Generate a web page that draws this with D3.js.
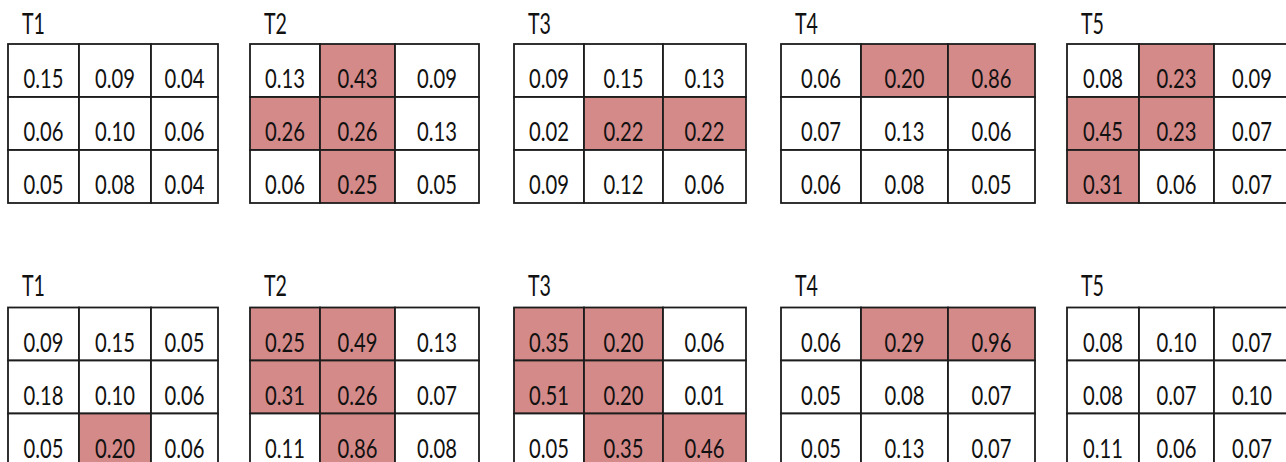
<!DOCTYPE html>
<html>
<head>
<meta charset="utf-8">
<script src="https://cdn.jsdelivr.net/npm/d3@7"></script>
<style>
  html, body { margin: 0; padding: 0; background: #fff; }
  svg { display: block; }
  text { font-family: "Lato", "Open Sans", "Liberation Sans", sans-serif; fill: #111; }
</style>
</head>
<body>
<svg id="chart" width="1286" height="462"></svg>
<script>
// ---- data ----
const panelTitles = ["T1", "T2", "T3", "T4", "T5"];

// top block, one 3x3 matrix per panel (rows top to bottom)
const topT1 = [[0.15, 0.09, 0.04], [0.06, 0.10, 0.06], [0.05, 0.08, 0.04]];
const topT2 = [[0.13, 0.43, 0.09], [0.26, 0.26, 0.13], [0.06, 0.25, 0.05]];
const topT3 = [[0.09, 0.15, 0.13], [0.02, 0.22, 0.22], [0.09, 0.12, 0.06]];
const topT4 = [[0.06, 0.20, 0.86], [0.07, 0.13, 0.06], [0.06, 0.08, 0.05]];
const topT5 = [[0.08, 0.23, 0.09], [0.45, 0.23, 0.07], [0.31, 0.06, 0.07]];

// bottom block
const botT1 = [[0.09, 0.15, 0.05], [0.18, 0.10, 0.06], [0.05, 0.20, 0.06]];
const botT2 = [[0.25, 0.49, 0.13], [0.31, 0.26, 0.07], [0.11, 0.86, 0.08]];
const botT3 = [[0.35, 0.20, 0.06], [0.51, 0.20, 0.01], [0.05, 0.35, 0.46]];
const botT4 = [[0.06, 0.29, 0.96], [0.05, 0.08, 0.07], [0.05, 0.13, 0.07]];
const botT5 = [[0.08, 0.10, 0.07], [0.08, 0.07, 0.10], [0.11, 0.06, 0.07]];

const highlightThreshold = 0.20;

const blocks = [
  [topT1, topT2, topT3, topT4, topT5],
  [botT1, botT2, botT3, botT4, botT5]
];

// ---- layout (not data) ----
const colEdges = [
  [8, 79, 151, 218],
  [250, 320, 395, 479],
  [514, 584, 663, 746],
  [781, 861, 948, 1035],
  [1067, 1139, 1214, 1290]
];
const blockTop = [44, 307.5];
const rowH = 53;
const titleOffset = [34 - 44, 296 - 307.5];
const titleDx = 14;
const highlightColor = "#d48a89";
const lineColor = "#1c1c1c";
const valueFontSize = 26, titleFontSize = 29;
const valueTargetWidth = 40;   // px width of "0.15" in reference
const titleTargetWidth = 23;   // px width of "T1" in reference

const svg = d3.select("#chart");

// measure font to compute horizontal condense factor
function measure(str, size) {
  const t = svg.append("text").attr("font-size", size).text(str);
  const w = t.node().getComputedTextLength();
  t.remove();
  return w;
}
const valueSx = valueTargetWidth / measure("0.15", valueFontSize);
const titleSx = titleTargetWidth / measure("T1", titleFontSize);

blocks.forEach((panels, b) => {
  const y = d3.scaleBand().domain(d3.range(3)).range([blockTop[b], blockTop[b] + 3 * rowH]).padding(0);
  panels.forEach((matrix, p) => {
    const x = d3.scaleLinear().domain([0, 1, 2, 3]).range(colEdges[p]);
    const g = svg.append("g").attr("class", "panel");

    g.append("text")
      .attr("transform", `translate(${colEdges[p][0] + titleDx},${blockTop[b] + titleOffset[b]}) scale(${titleSx},1)`)
      .attr("font-size", titleFontSize)
      .text(panelTitles[p]);

    const cells = [];
    matrix.forEach((row, r) => row.forEach((v, c) => cells.push({ r, c, v })));

    g.selectAll("rect.cell").data(cells).join("rect")
      .attr("class", "cell")
      .attr("x", d => x(d.c))
      .attr("y", d => y(d.r))
      .attr("width", d => x(d.c + 1) - x(d.c))
      .attr("height", y.bandwidth())
      .attr("fill", d => d.v >= highlightThreshold - 1e-9 ? highlightColor : "#ffffff")
      .attr("stroke", lineColor)
      .attr("stroke-width", 1.8);

    g.selectAll("text.val").data(cells).join("text")
      .attr("class", "val")
      .attr("transform", d => `translate(${(x(d.c) + x(d.c + 1)) / 2},${y(d.r) + y.bandwidth() - 8.7}) scale(${valueSx},1)`)
      .attr("text-anchor", "middle")
      .attr("font-size", valueFontSize)
      .text(d => d3.format(".2f")(d.v));
  });
});
</script>
</body>
</html>
